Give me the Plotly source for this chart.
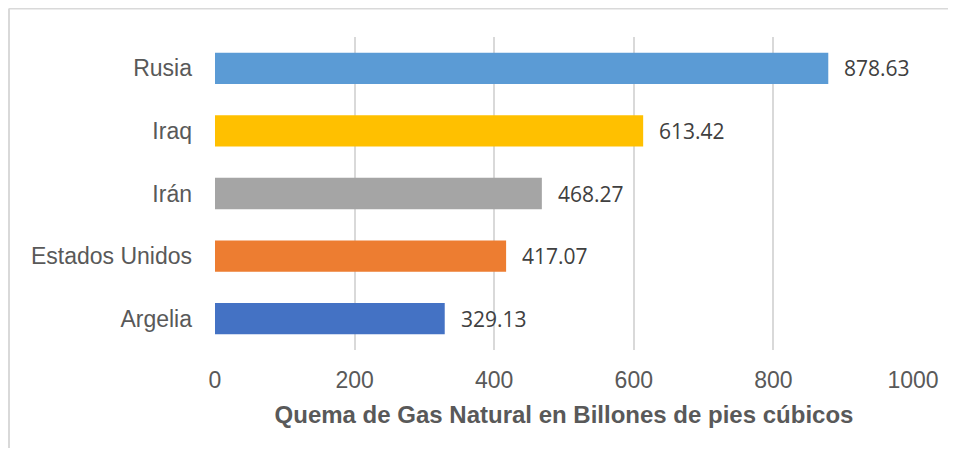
import plotly.graph_objects as go

countries = ["Argelia", "Estados Unidos", "Irán", "Iraq", "Rusia"]
values = [329.13, 417.07, 468.27, 613.42, 878.63]
colors = ["#4472C4", "#ED7D31", "#A5A5A5", "#FFC000", "#5B9BD5"]
x_ticks = [0, 200, 400, 600, 800, 1000]
x_title = "Quema de Gas Natural en Billones de pies cúbicos"

fig = go.Figure()
fig.add_trace(go.Bar(
    y=countries, x=values, orientation="h",
    marker=dict(color=colors, line=dict(width=0)),
    width=0.5, hoverinfo="x+y",
))

for c, v in zip(countries, values):
    fig.add_annotation(
        x=v, y=c, text=f"{v:.2f}", showarrow=False,
        xanchor="left", xshift=14,
        font=dict(family="Open Sans", size=21, color="#404040"),
    )

# outer chart border: only left and top edges are visible in the frame
border = dict(color="#d9d9d9", width=2)
fig.add_shape(type="line", xref="paper", yref="paper",
              x0=-0.2951, x1=-0.2951, y0=-0.45, y1=1.091, line=border, layer="below")
fig.add_shape(type="line", xref="paper", yref="paper",
              x0=-0.2951, x1=1.2, y0=1.091, y1=1.091, line=border, layer="below")

fig.update_layout(
    width=948, height=440,
    margin=dict(l=207, r=43, t=29, b=98),
    paper_bgcolor="white", plot_bgcolor="white",
    showlegend=False,
    xaxis=dict(
        range=[0, 1000], tickvals=x_ticks, ticktext=[str(t) for t in x_ticks],
        showgrid=True, gridcolor="#d9d9d9", gridwidth=1.5,
        zeroline=False, showline=False, ticks="",
        ticklabelstandoff=14,
        tickfont=dict(family="Liberation Sans, Arial", size=23, color="#595959"),
        title=dict(text=x_title, standoff=14,
                   font=dict(family="Liberation Sans, Arial", size=24, color="#595959",
                             weight="bold")),
    ),
    yaxis=dict(
        showgrid=False, zeroline=False, showline=False, ticks="",
        ticklabelstandoff=22,
        tickfont=dict(family="Liberation Sans, Arial", size=23, color="#595959"),
    ),
)

fig.write_html("out.html")
